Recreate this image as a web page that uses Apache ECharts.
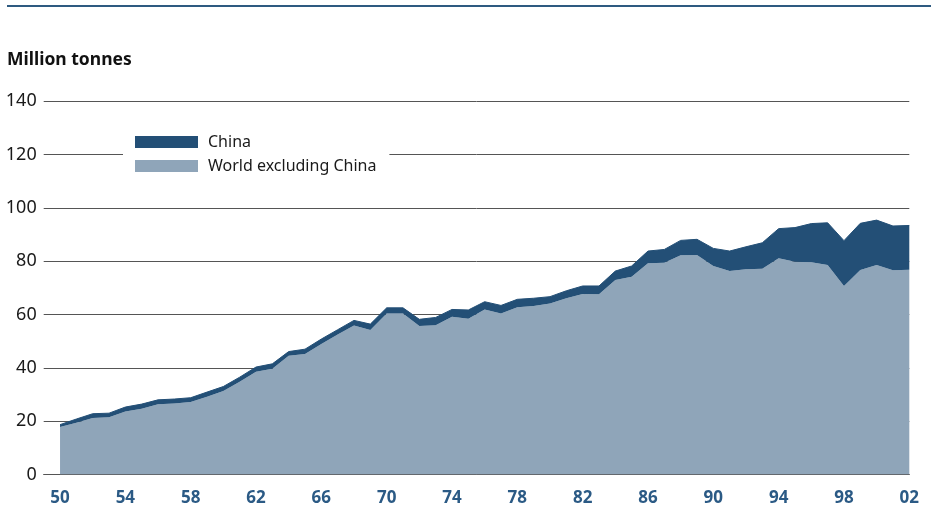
<!DOCTYPE html>
<html>
<head>
<meta charset="utf-8">
<script src="https://cdn.jsdelivr.net/npm/echarts@6/dist/echarts.min.js"></script>
<style>
  html, body { margin: 0; padding: 0; background: #fff; }
  #chart { width: 931px; height: 508px; }
</style>
</head>
<body>
<div id="chart"></div>
<script>
const years = [
  1950, 1951, 1952, 1953, 1954, 1955, 1956, 1957, 1958, 1959,
  1960, 1961, 1962, 1963, 1964, 1965, 1966, 1967, 1968, 1969,
  1970, 1971, 1972, 1973, 1974, 1975, 1976, 1977, 1978, 1979,
  1980, 1981, 1982, 1983, 1984, 1985, 1986, 1987, 1988, 1989,
  1990, 1991, 1992, 1993, 1994, 1995, 1996, 1997, 1998, 1999,
  2000, 2001, 2002
];

const worldExChina = [
  17.8, 19.4, 21.2, 21.5, 23.6, 24.7, 26.3, 26.6, 27.2, 29.2,
  31.3, 34.8, 38.5, 39.7, 44.5, 45.2, 48.9, 52.5, 55.9, 54.2,
  60.4, 60.4, 55.7, 56.0, 59.2, 58.4, 61.9, 60.4, 62.7, 63.2,
  64.1, 66.1, 67.7, 67.6, 72.9, 74.2, 79.2, 79.4, 82.2, 82.3,
  78.2, 76.3, 77.0, 77.2, 81.1, 79.8, 79.6, 78.6, 70.7, 76.7,
  78.6, 76.6, 76.8
];

const china = [
  0.9, 1.4, 1.6, 1.5, 1.7, 1.7, 1.7, 1.7, 1.6, 1.7,
  1.7, 1.7, 1.8, 1.8, 1.6, 1.8, 1.9, 1.8, 1.9, 2.2,
  2.1, 2.1, 2.5, 2.9, 2.7, 3.3, 2.9, 3.0, 3.0, 2.9,
  2.6, 2.8, 3.0, 3.1, 3.4, 4.0, 4.6, 5.0, 5.6, 5.9,
  6.6, 7.5, 8.4, 9.7, 11.1, 12.8, 14.5, 15.8, 17.0, 17.5,
  16.8, 16.6, 16.6
];

const xTickYears = [1950, 1954, 1958, 1962, 1966, 1970, 1974, 1978, 1982, 1986, 1990, 1994, 1998, 2002];
const yTicks = [0, 20, 40, 60, 80, 100, 120, 140];

const darkBlue = '#234f76';
const lightBlue = '#8fa5b9';
const fontFamily = '"Noto Sans", "Open Sans", sans-serif';

// one empty leading slot so the gridlines start a year before the data
const categories = [String(years[0] - 1)].concat(years.map(String));

const chart = echarts.init(document.getElementById('chart'));

chart.setOption({
  animation: false,
  textStyle: { fontFamily },
  graphic: [{
    type: 'rect',
    shape: { x: 7, y: 5, width: 924, height: 2 },
    style: { fill: '#2e5a80' }
  }, {
    type: 'text',
    left: 7,
    top: 51,
    style: {
      text: 'Million tonnes',
      font: 'bold 17.5px "Noto Sans", sans-serif',
      fill: '#111'
    }
  }],
  legend: {
    left: 123,
    top: 128,
    orient: 'vertical',
    icon: 'rect',
    itemWidth: 63,
    itemHeight: 12,
    itemGap: 8,
    padding: [6, 13, 6, 12],
    backgroundColor: '#fff',
    textStyle: { fontSize: 16, color: '#1a1a1a', fontFamily, padding: [0, 0, 0, 5] },
    data: ['China', 'World excluding China']
  },
  grid: {
    left: 43.7,
    right: 21.7,
    top: 101.2,
    bottom: 33.5,
    containLabel: false
  },
  xAxis: {
    type: 'category',
    boundaryGap: false,
    data: categories,
    axisLine: { show: true, lineStyle: { color: '#555', width: 1 } },
    axisTick: { show: false },
    splitLine: { show: false },
    axisLabel: {
      interval: (idx, val) => xTickYears.indexOf(Number(val)) >= 0,
      margin: 15,
      fontSize: 17,
      fontWeight: 'bold',
      color: '#2b5a85',
      formatter: (v) => String(Number(v) % 100).padStart(2, '0')
    }
  },
  yAxis: {
    type: 'value',
    min: yTicks[0],
    max: yTicks[yTicks.length - 1],
    interval: 20,
    axisLine: { show: false },
    axisTick: { show: false },
    splitLine: { lineStyle: { color: '#555', width: 1 } },
    axisLabel: { margin: 7, fontSize: 18, color: '#1a1a1a' }
  },
  series: [{
    name: 'World excluding China',
    type: 'line',
    stack: 'total',
    showSymbol: false,
    lineStyle: { width: 0 },
    itemStyle: { color: lightBlue },
    areaStyle: { color: lightBlue, opacity: 1 },
    data: ['-'].concat(worldExChina)
  }, {
    name: 'China',
    type: 'line',
    stack: 'total',
    showSymbol: false,
    lineStyle: { width: 1, color: darkBlue },
    itemStyle: { color: darkBlue },
    areaStyle: { color: darkBlue, opacity: 1 },
    data: ['-'].concat(china)
  }]
});
</script>
</body>
</html>
